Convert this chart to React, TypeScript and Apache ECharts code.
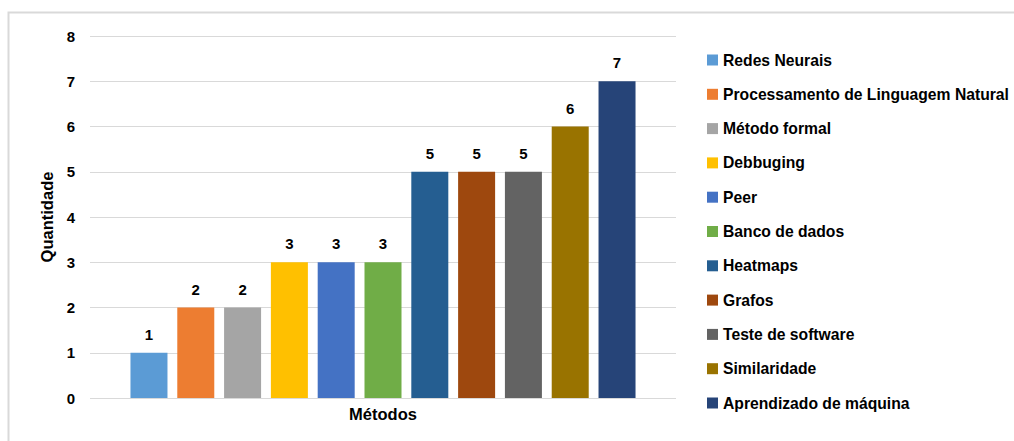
import React, { useEffect, useRef } from "react";
import * as echarts from "echarts";

const methods = [
  "Redes Neurais",
  "Processamento de Linguagem Natural",
  "Método formal",
  "Debbuging",
  "Peer",
  "Banco de dados",
  "Heatmaps",
  "Grafos",
  "Teste de software",
  "Similaridade",
  "Aprendizado de máquina",
];
const counts = [1, 2, 2, 3, 3, 3, 5, 5, 5, 6, 7];
const colors = [
  "#5B9BD5",
  "#ED7D31",
  "#A5A5A5",
  "#FFC000",
  "#4472C4",
  "#70AD47",
  "#255E91",
  "#9E480E",
  "#636363",
  "#997300",
  "#264478",
];
const categories = [""];
const yTicks = { min: 0, max: 8, interval: 1 };

const FONT = "Liberation Sans, Arial, sans-serif";

export default function App() {
  const ref = useRef<HTMLDivElement>(null);
  useEffect(() => {
    if (!ref.current) return;
    const chart = echarts.init(ref.current, undefined, { renderer: "svg" });
    chart.setOption({
      animation: false,
      backgroundColor: "#fff",
      textStyle: { fontFamily: FONT },
      graphic: [
        {
          type: "rect",
          shape: { x: 8.5, y: 12.5, width: 1020, height: 450 },
          style: { fill: "none", stroke: "#d9d9d9", lineWidth: 2 },
          silent: true,
        },
      ],
      grid: { left: 90, right: 338, top: 36, bottom: 43, containLabel: false },
      legend: {
        orient: "vertical",
        left: 707,
        top: 52,
        padding: 0,
        itemWidth: 11,
        itemHeight: 11,
        itemGap: 18.3,
        icon: "rect",
        textStyle: {
          fontFamily: FONT,
          fontWeight: "bold",
          fontSize: 15.7,
          lineHeight: 16,
          color: "#000",
        },
        data: methods,
      },
      xAxis: {
        type: "category",
        data: categories,
        name: "Métodos",
        nameLocation: "middle",
        nameGap: 7,
        nameTextStyle: { fontFamily: FONT, fontWeight: "bold", fontSize: 16.5, color: "#000" },
        axisLine: { show: false },
        axisTick: { show: false },
        axisLabel: { show: false },
      },
      yAxis: {
        type: "value",
        min: yTicks.min,
        max: yTicks.max,
        interval: yTicks.interval,
        name: "Quantidade",
        nameLocation: "middle",
        nameGap: 35,
        nameTextStyle: { fontFamily: FONT, fontWeight: "bold", fontSize: 16.5, color: "#000" },
        axisLine: { show: false },
        axisTick: { show: false },
        axisLabel: {
          margin: 15,
          fontFamily: FONT,
          fontWeight: "bold",
          fontSize: 15,
          color: "#000",
        },
        splitLine: { lineStyle: { color: "#d9d9d9", width: 1 } },
      },
      series: methods.map((name, i) => ({
        name,
        type: "bar",
        data: [counts[i]],
        barWidth: 37,
        barGap: "26.5%",
        itemStyle: { color: colors[i] },
        label: {
          show: true,
          position: "top",
          distance: 11,
          fontFamily: FONT,
          fontWeight: "bold",
          fontSize: 15,
          color: "#000",
        },
      })),
    });
    return () => chart.dispose();
  }, []);
  return (
    <div
      ref={ref}
      style={{ position: "fixed", left: 0, top: 0, width: 1014, height: 441, background: "#fff" }}
    />
  );
}
